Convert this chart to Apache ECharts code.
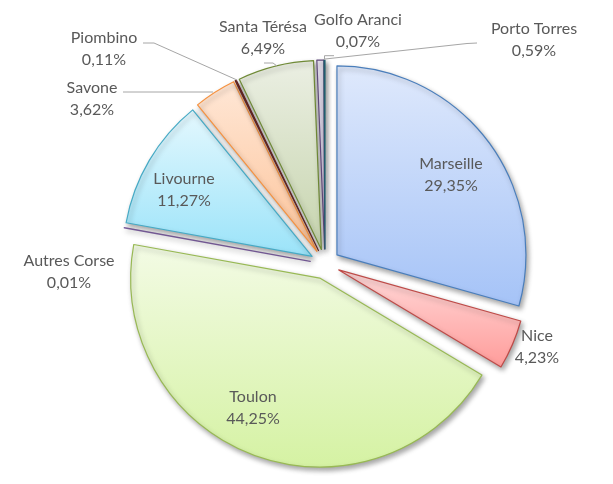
<!DOCTYPE html>
<html><head><meta charset="utf-8">
<script src="https://cdn.jsdelivr.net/npm/echarts@6/dist/echarts.min.js"></script>
<style>html,body{margin:0;padding:0;background:#fff}#c{width:613px;height:484px}</style>
</head><body><div id="c"></div>
<script>
// ---- data ----
const categories = ['Marseille', 'Nice', 'Toulon', 'Autres Corse', 'Livourne', 'Savone', 'Piombino', 'Santa Térésa', 'Porto Torres', 'Golfo Aranci'];
const shares = [29.35, 4.23, 44.25, 0.01, 11.27, 3.62, 0.11, 6.49, 0.59, 0.07];

// ---- styles ----
const fillTop    = ['#dfe9fc', '#ffd9d9', '#f3fbe5', '#d9d0e6', '#e4f8fe', '#ffe7d6', '#7a2e2c', '#ebefe3', '#e8e3f0', '#31859c'];
const fillBottom = ['#a5c3f7', '#ff9c9a', '#d5f2a3', '#b8a8d0', '#9ae3f9', '#fcc399', '#6a2624', '#c6d4ad', '#c8bcd9', '#2b7589'];
const borderColors = ['#4a7ebb', '#be4b48', '#98b954', '#7d60a0', '#46aac5', '#f69240', '#632523', '#6f8a36', '#5f497a', '#215d6e'];

// ---- label layout (text anchor positions and leader lines) ----
const labelPos = [[451, 175], [537, 347], [253, 407.5], [69, 272], [184, 190], [92, 98.5], [104, 49], [263, 38], [534, 40], [358, 31]];
const leaderLines = [null, null, null, null, null,
  [[213, 92], [123, 92]],
  [[237, 80], [154, 43], [143, 43]],
  [[277, 66], [273, 63], [264, 63]],
  [[325, 59], [467, 43.5], [477, 43]],
  [[324.5, 60], [324.5, 55.7], [334, 55.7]]];

const fmt = p => p.name + '\n' + p.value.toFixed(2).replace('.', ',') + '%';
const CENTER = [325, 264], R = 189;

const chart = echarts.init(document.getElementById('c'), null, {renderer: 'canvas'});
chart.setOption({
  backgroundColor: '#ffffff',
  animation: false,
  series: [{
    // exploded slices
    type: 'pie',
    center: CENTER,
    radius: R,
    startAngle: 90,
    clockwise: true,
    selectedMode: 'multiple',
    selectedOffset: 15,
    emphasis: {disabled: true},
    label: {show: false},
    labelLine: {show: false},
    data: categories.map((n, i) => ({
      name: n,
      value: shares[i],
      selected: true,
      itemStyle: {
        color: {type: 'linear', x: 0, y: 0, x2: 0, y2: 1,
          colorStops: [{offset: 0, color: fillTop[i]}, {offset: 1, color: fillBottom[i]}]},
        borderColor: borderColors[i],
        borderWidth: 1.2,
        shadowBlur: 5,
        shadowColor: 'rgba(0,0,0,0.35)',
        shadowOffsetX: 2,
        shadowOffsetY: 3
      }
    }))
  }, {
    // same pie, invisible, carrying the data labels
    type: 'pie',
    center: CENTER,
    radius: R,
    startAngle: 90,
    clockwise: true,
    silent: true,
    z: 5,
    selectedMode: false,
    avoidLabelOverlap: false,
    emphasis: {disabled: true},
    itemStyle: {color: 'rgba(0,0,0,0)', borderWidth: 0},
    label: {
      show: true,
      position: 'outside',
      formatter: fmt,
      color: '#595959',
      fontFamily: 'Lato',
      fontSize: 16,
      lineHeight: 22,
      align: 'center'
    },
    labelLine: {show: true, length: 8, length2: 8, lineStyle: {color: '#a6a6a6', width: 1}},
    labelLayout: function (params) {
      const i = params.dataIndex;
      const o = {x: labelPos[i][0], y: labelPos[i][1], align: 'center', verticalAlign: 'middle'};
      if (leaderLines[i]) o.labelLinePoints = leaderLines[i];
      return o;
    },
    data: categories.map((n, i) => ({
      name: n,
      value: shares[i],
      labelLine: {show: !!leaderLines[i]}
    }))
  }]
});
</script>
</body></html>
